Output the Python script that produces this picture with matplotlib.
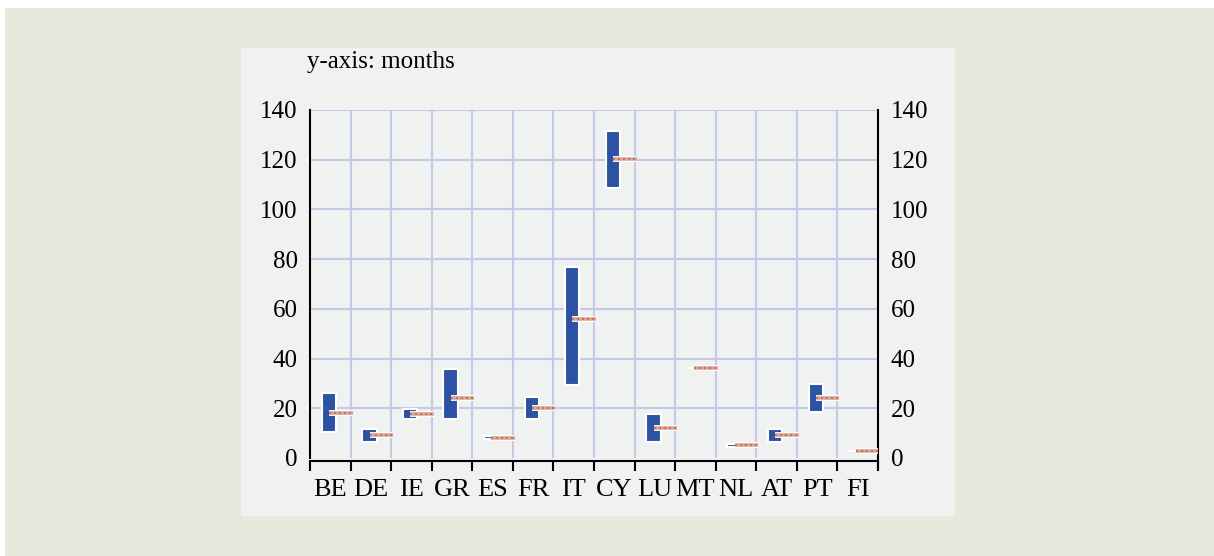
import numpy as np
import matplotlib.pyplot as plt
import matplotlib.patheffects as pe
from matplotlib.patches import Rectangle

plt.rcParams['font.family'] = ['Liberation Serif', 'DejaVu Serif']

countries = ['BE', 'DE', 'IE', 'GR', 'ES', 'FR', 'IT', 'CY', 'LU', 'MT', 'NL', 'AT', 'PT', 'FI']
range_low = [10.6, 6.6, 15.6, 15.6, 7.5, 15.6, 29.4, 108.5, 6.6, 36.3, 4.5, 6.6, 18.6, 2.7]
range_high = [26.0, 11.7, 19.7, 35.7, 8.9, 24.7, 76.7, 131.7, 17.7, 36.3, 5.6, 11.8, 29.7, 2.7]
average = [18.2, 9.1, 17.7, 24.1, 8.0, 20.1, 56.1, 120.2, 12.1, 36.2, 5.1, 9.1, 24.1, 2.7]
y_ticks = [0, 20, 40, 60, 80, 100, 120, 140]

W, H = 1214, 556
fig = plt.figure(figsize=(W / 100, H / 100), dpi=100)
fig.patch.set_facecolor('#e6e9dc')

# white margins and the light inner panel
fig.patches.append(Rectangle((0, 1 - 8 / H), 1, 8 / H, transform=fig.transFigure,
                             facecolor='white', edgecolor='none', zorder=-10))
fig.patches.append(Rectangle((0, 0), 5 / W, 1, transform=fig.transFigure,
                             facecolor='white', edgecolor='none', zorder=-10))
fig.patches.append(Rectangle((241 / W, 1 - 516 / H), (955 - 241) / W, (516 - 48) / H,
                             transform=fig.transFigure, facecolor='#f0f1f1',
                             edgecolor='none', zorder=-10))

ax = fig.add_axes([310 / W, 1 - 458 / H, (878 - 310) / W, (458 - 110) / H])
ax.set_facecolor('none')

x = np.arange(len(countries))
heights = np.array(range_high) - np.array(range_low)

ax.bar(x - 0.035, heights, bottom=range_low, width=0.35, color='#2b52a3',
       edgecolor='white', linewidth=1.5, zorder=3)

for xi, m in zip(x, average):
    ax.plot([xi - 0.03, xi + 0.55], [m, m], color='#dba593', linewidth=2.6,
            solid_capstyle='butt', zorder=4,
            path_effects=[pe.Stroke(linewidth=4.2, foreground='white'), pe.Normal()])
    ax.plot([xi - 0.03, xi + 0.55], [m, m], color='#c46a55', linewidth=1.2,
            linestyle=(0, (1.2, 1.8)), zorder=5)

ax.set_xlim(-0.5, len(countries) - 0.5)
ax.set_ylim(0, 140)

# grid
for b in np.arange(0.5, len(countries) - 0.5):
    ax.axvline(b, color='#c6c8e8', linewidth=1.5, zorder=1)
for t in y_ticks[1:]:
    ax.axhline(t, color='#c6c8e8', linewidth=1.5, zorder=1)

ax.spines['top'].set_visible(False)
for s in ['left', 'right', 'bottom']:
    ax.spines[s].set_linewidth(1.5)
    ax.spines[s].set_color('black')
ax.spines['bottom'].set_position(('outward', 2))
ax.spines['right'].set_bounds(-4, 140)

ax.set_xticks(np.arange(-0.5, len(countries)))
ax.set_xticklabels([])
ax.set_xticks(x, minor=True)
ax.set_xticklabels(countries, minor=True, fontsize=19)
ax.tick_params(axis='x', which='major', direction='out', length=7, width=1.5)
ax.tick_params(axis='x', which='minor', length=0, pad=13)

ax.set_yticks(y_ticks)
ax.tick_params(axis='y', which='both', length=0, labelsize=18, pad=9,
               labelright=True, right=False)

fig.text(307 / W, 1 - 62 / H, 'y-axis: months', fontsize=18, va='center', ha='left')

fig.savefig('out.png', dpi=100, facecolor=fig.get_facecolor())
